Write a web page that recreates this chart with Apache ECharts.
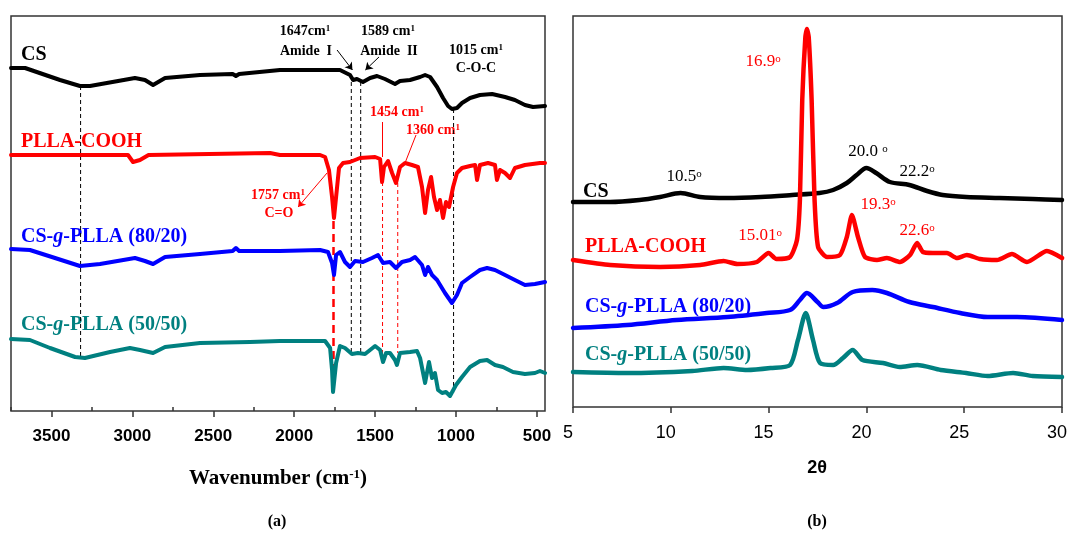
<!DOCTYPE html>
<html>
<head>
<meta charset="utf-8">
<title>FTIR / XRD</title>
<script src="https://cdn.jsdelivr.net/npm/echarts@6/dist/echarts.min.js"></script>
<style>
  html, body { margin: 0; background: #fff; overflow: hidden; }
  #chart { width: 1069px; height: 536px; }
</style>
</head>
<body>
<div id="chart"></div>
<script>
// ---- (a) FTIR, wavenumber (cm-1) vs transmittance (a.u., stacked) ----
var ftirCS = [[3750,343],[3663,343],[3447,331],[3324,325],[3262,325],[2984,333],[2922,331],[2872,326],[2798,333],[2582,336],[2380,337],[2360,335],[2340,337],[2088,341],[1717,341],[1655,336],[1636,331],[1612,332],[1575,329],[1531,333],[1488,335],[1439,332],[1377,327],[1346,330],[1284,331],[1222,334],[1191,336],[1160,334],[1117,324],[1080,313],[1049,305],[1025,302],[994,303],[963,308],[913,313],[852,316],[777,317],[697,314],[636,311],[574,306],[524,304],[450,305]]
var ftirPLLA = [[3750,256],[3300,256],[3027,256],[2996,249],[2953,251],[2900,256],[2149,258],[2088,256],[1840,256],[1809,254],[1785,241],[1766,214],[1754,193],[1741,214],[1723,243],[1698,248],[1655,249],[1593,253],[1500,254],[1469,252],[1457,229],[1445,244],[1420,250],[1395,238],[1371,228],[1346,244],[1315,248],[1272,246],[1235,244],[1210,224],[1191,198],[1173,221],[1154,234],[1136,214],[1117,201],[1099,211],[1080,193],[1062,209],[1043,204],[1018,224],[994,238],[963,243],[913,245],[882,246],[870,231],[852,246],[802,248],[759,246],[747,231],[728,241],[697,238],[666,233],[636,243],[574,246],[481,248],[450,248]]
var ftir8020 = [[3750,162],[3633,161],[3478,153],[3324,145],[3200,147],[2984,153],[2922,150],[2872,147],[2798,154],[2582,157],[2380,160],[2360,163],[2340,160],[2088,160],[1840,161],[1791,159],[1766,148],[1754,136],[1741,156],[1717,159],[1686,149],[1655,144],[1624,150],[1575,149],[1519,153],[1482,156],[1451,148],[1408,149],[1371,143],[1334,149],[1284,151],[1253,154],[1210,146],[1191,136],[1173,144],[1148,136],[1117,131],[1068,118],[1025,108],[994,116],[963,128],[913,134],[852,141],[808,143],[759,141],[697,136],[636,131],[574,126],[512,127],[450,129]]
var ftir5050 = [[3750,72],[3633,71],[3509,63],[3354,54],[3293,53],[3138,59],[3015,63],[2953,61],[2872,58],[2798,64],[2582,68],[2273,69],[2088,70],[1964,70],[1809,70],[1778,63],[1766,41],[1760,19],[1741,48],[1717,65],[1686,63],[1643,57],[1606,58],[1562,57],[1500,65],[1469,61],[1451,49],[1432,58],[1408,58],[1377,51],[1365,46],[1346,58],[1284,59],[1241,60],[1222,53],[1191,28],[1167,49],[1148,33],[1130,38],[1111,21],[1086,18],[1062,19],[1037,15],[1025,17],[1000,26],[963,34],[913,44],[852,50],[808,51],[759,46],[710,44],[648,39],[574,37],[512,38],[481,40],[450,38]]
var ftirMajorTicks = [500, 1000, 1500, 2000, 2500, 3000, 3500]
var ftirMinorTicks = [750, 1250, 1750, 2250, 2750, 3250, 3750]
// marker lines: [wavenumber, from, to]
var blackMarks = [[3320, 325, 53], [1647, 336, 57], [1589, 329, 57], [1015, 302, 17]]
var redMarks = [[1454, 229, 56], [1360, 228, 58]]
var carbonylMark = [1757, 190, 44]
// pointer arrows / leader lines: [[x1,y1],[x2,y2]]
var blackArrows = [[[1735, 361], [1640, 341]], [[1476, 354], [1560, 341]]]
var redArrows = [[[1797, 238], [1976, 204]]]
var redLeaders = [[[1454, 289], [1454, 254]], [[1247, 276], [1315, 248]]]

// ---- (b) XRD, 2theta vs intensity (a.u., stacked) ----
var xrdCS = [[5,205],[6.9,205],[8.4,207],[9.45,210],[10.5,214],[11.5,210],[12.9,209],[14.6,210],[16.2,212],[17.6,214],[18.3,217],[19.0,224],[19.5,232],[20.0,239],[20.5,234],[21.2,225],[22.2,222],[23.1,216],[23.9,212],[25.1,210],[26.8,209],[28.5,208],[30,207]]
var xrdPLLA = [[5,147],[6.9,142],[9.45,140],[11.5,142],[12.7,146],[13.4,143],[14.4,145],[15.0,154],[15.4,148],[16.1,150],[16.45,167],[16.6,207],[16.72,307],[16.88,370],[16.96,378],[17.05,370],[17.2,307],[17.35,207],[17.53,160],[17.99,150],[18.65,152],[19.0,170],[19.26,192],[19.57,170],[19.93,150],[20.54,147],[21.05,149],[21.72,145],[22.23,152],[22.59,164],[22.89,155],[23.4,154],[24.12,154],[24.63,149],[25.14,152],[25.81,148],[26.68,147],[27.44,153],[28.21,145],[29.23,156],[30,149]]
var xrd8020 = [[5,79],[7.76,82],[10.3,87],[12.9,90],[14.9,94],[16.1,97],[16.6,107],[16.96,114],[17.5,105],[17.8,100],[18.5,104],[19.3,115],[20.3,117],[21.05,114],[22.2,105],[23.4,100],[24.8,94],[26.2,90],[27.7,90],[30,87]]
var xrd5050 = [[5,35],[7.76,34],[11.1,36],[12.7,39],[13.9,37],[15.1,39],[16.1,42],[16.5,67],[16.9,94],[17.27,67],[17.63,44],[18.3,42],[18.8,49],[19.3,57],[19.8,47],[20.85,44],[21.7,40],[22.6,42],[23.8,37],[25.1,34],[26.2,31],[27.5,34],[28.5,31],[30,30]]

var SERIF = '"Liberation Serif", "Times New Roman", serif'
var SANS = '"Liberation Sans", Arial, sans-serif'
var RED = '#ff0000', BLUE = '#0000ff', TEAL = '#008080', BLACK = '#000000'

function txt(x, y, text, color, size, opt) {
  opt = opt || {}
  var weight = opt.weight || 'bold'
  return {
    type: 'text', x: x, y: y, silent: true,
    style: {
      text: text, fill: color,
      fontFamily: opt.family || SERIF, fontSize: size, fontWeight: weight,
      align: opt.align || 'left', verticalAlign: 'middle',
      rich: {
        i: { fontFamily: opt.family || SERIF, fontSize: size, fontWeight: weight, fontStyle: 'italic', fill: color },
        sup: { fontFamily: opt.family || SERIF, fontSize: Math.round(size * 0.62), fontWeight: weight, fill: color, verticalAlign: 'top' }
      }
    }
  }
}

function trace(name, data, color, xi, width, smooth) {
  return {
    name: name, type: 'line', xAxisIndex: xi, yAxisIndex: xi, data: data,
    showSymbol: false, silent: true, smooth: smooth || false,
    lineStyle: { color: color, width: width, join: 'round', cap: 'round' }
  }
}

function marks(list, color, width, dash) {
  return list.map(function (m) {
    return {
      type: 'line', xAxisIndex: 0, yAxisIndex: 0, showSymbol: false, silent: true, z: 1,
      data: [[m[0], m[1]], [m[0], m[2]]],
      lineStyle: { color: color, width: width, type: dash }
    }
  })
}

function arrows(list, color, head) {
  return {
    type: 'lines', coordinateSystem: 'cartesian2d', xAxisIndex: 0, yAxisIndex: 0, silent: true,
    symbol: head ? ['none', 'arrow'] : ['none', 'none'], symbolSize: 7,
    data: list.map(function (a) { return { coords: a } }),
    lineStyle: { color: color, width: 1, opacity: 1 }
  }
}

var chart = echarts.init(document.getElementById('chart'), null, { renderer: 'canvas', width: 1069, height: 536 })

var series = [].concat(
  marks(blackMarks, BLACK, 1, [4, 3]),
  marks(redMarks, RED, 1, [4, 3]),
  marks([carbonylMark], RED, 2.5, [8, 5]),
  [
    arrows(blackArrows, BLACK, true),
    arrows(redArrows, RED, true),
    arrows(redLeaders, RED, false),
    trace('CS', ftirCS, BLACK, 0, 4),
    trace('PLLA-COOH', ftirPLLA, RED, 0, 4),
    trace('CS-g-PLLA (80/20)', ftir8020, BLUE, 0, 4),
    trace('CS-g-PLLA (50/50)', ftir5050, TEAL, 0, 4),
    trace('CS', xrdCS, BLACK, 2, 4.5, 0.3),
    trace('PLLA-COOH', xrdPLLA, RED, 2, 4.5, 0.2),
    trace('CS-g-PLLA (80/20)', xrd8020, BLUE, 2, 4.5, 0.3),
    trace('CS-g-PLLA (50/50)', xrd5050, TEAL, 2, 4.5, 0.25)
  ]
)

chart.setOption({
  animation: false,
  backgroundColor: '#fff',
  grid: [
    { left: 11, top: 16, width: 534, height: 395, outerBoundsMode: 'none', show: true, borderColor: '#333', borderWidth: 1.5, backgroundColor: 'transparent' },
    { left: 573, top: 16, width: 489, height: 391, outerBoundsMode: 'none', show: true, borderColor: '#333', borderWidth: 1.5, backgroundColor: 'transparent' }
  ],
  xAxis: [
    {
      type: 'value', gridIndex: 0, inverse: true, min: 450, max: 3750,
      axisLine: { show: false },
      axisTick: { show: true, inside: false, length: 6, customValues: ftirMajorTicks, lineStyle: { color: '#333', width: 1.5 } },
      axisLabel: {
        customValues: ftirMajorTicks, margin: 17, color: '#000', fontFamily: SANS, fontWeight: 'bold', fontSize: 17,
        formatter: function (v) { return String(v) }
      },
      splitLine: { show: false }
    },
    {
      type: 'value', gridIndex: 0, inverse: true, min: 450, max: 3750,
      axisLine: { show: false },
      axisTick: { show: true, inside: false, length: 4, customValues: ftirMinorTicks, lineStyle: { color: '#333', width: 1.5 } },
      axisLabel: { show: false },
      splitLine: { show: false }
    },
    {
      type: 'value', gridIndex: 1, min: 5, max: 30, interval: 5,
      axisLine: { show: false },
      axisTick: { show: true, inside: false, length: 6, lineStyle: { color: '#333', width: 1.5 } },
      axisLabel: {
        margin: 17, color: '#000', fontFamily: SANS, fontSize: 18, showMaxLabel: true, showMinLabel: true,
        padding: [0, 10, 0, 0]
      },
      splitLine: { show: false }
    }
  ],
  yAxis: [
    { type: 'value', gridIndex: 0, min: 0, max: 395, show: false },
    { type: 'value', gridIndex: 0, min: 0, max: 395, show: false },
    { type: 'value', gridIndex: 1, min: 0, max: 391, show: false }
  ],
  series: series,
  graphic: [
    // (a) trace labels
    txt(21, 55, 'CS', BLACK, 20),
    txt(21, 142, 'PLLA-COOH', RED, 20),
    txt(21, 237, 'CS-{i|g}-PLLA (80/20)', BLUE, 20),
    txt(21, 325, 'CS-{i|g}-PLLA (50/50)', TEAL, 20),
    // (a) band annotations
    txt(305, 31, '1647cm{sup|1}', BLACK, 14, { align: 'center' }),
    txt(306, 51, 'Amide  I', BLACK, 14, { align: 'center' }),
    txt(388, 31, '1589 cm{sup|1}', BLACK, 14, { align: 'center' }),
    txt(389, 51, 'Amide  II', BLACK, 14, { align: 'center' }),
    txt(476, 50, '1015 cm{sup|1}', BLACK, 14, { align: 'center' }),
    txt(476, 68, 'C-O-C', BLACK, 14, { align: 'center' }),
    txt(397, 112, '1454 cm{sup|1}', RED, 14, { align: 'center' }),
    txt(433, 130, '1360 cm{sup|1}', RED, 14, { align: 'center' }),
    txt(278, 195, '1757 cm{sup|1}', RED, 14, { align: 'center' }),
    txt(279, 213, 'C=O', RED, 14, { align: 'center' }),
    // (a) axis title and panel tag
    txt(278, 479, 'Wavenumber (cm{sup|-1})', BLACK, 21, { align: 'center' }),
    txt(277, 522, '(a)', BLACK, 16, { align: 'center' }),
    // (b) trace labels
    txt(583, 192, 'CS', BLACK, 20),
    txt(585, 247, 'PLLA-COOH', RED, 20),
    txt(585, 307, 'CS-{i|g}-PLLA (80/20)', BLUE, 20),
    txt(585, 355, 'CS-{i|g}-PLLA (50/50)', TEAL, 20),
    // (b) peak annotations
    txt(763, 62, '16.9{sup|o}', RED, 17, { align: 'center', weight: 'normal' }),
    txt(684, 177, '10.5{sup|o}', BLACK, 17, { align: 'center', weight: 'normal' }),
    txt(868, 152, '20.0 {sup|o}', BLACK, 17, { align: 'center', weight: 'normal' }),
    txt(917, 172, '22.2{sup|o}', BLACK, 17, { align: 'center', weight: 'normal' }),
    txt(878, 205, '19.3{sup|o}', RED, 17, { align: 'center', weight: 'normal' }),
    txt(760, 236, '15.01{sup|o}', RED, 17, { align: 'center', weight: 'normal' }),
    txt(917, 231, '22.6{sup|o}', RED, 17, { align: 'center', weight: 'normal' }),
    // (b) axis title and panel tag
    txt(817, 468, '2θ', BLACK, 18, { align: 'center', family: SANS }),
    txt(817, 522, '(b)', BLACK, 16, { align: 'center' })
  ]
})
</script>
</body>
</html>
